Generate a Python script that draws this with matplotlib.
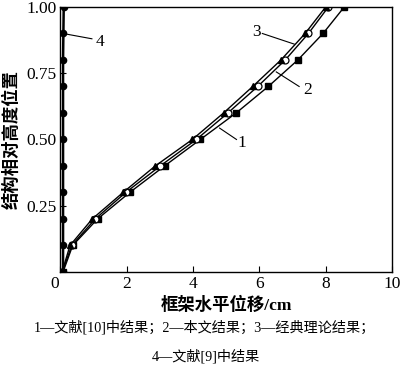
import matplotlib
matplotlib.use('Agg')
import matplotlib.pyplot as plt
from matplotlib.transforms import ScaledTranslation

plt.rcParams['font.family'] = ['Liberation Serif', 'Noto Sans CJK SC']

# relative height of the frame
height = [0, 0.1, 0.2, 0.3, 0.4, 0.5, 0.6, 0.7, 0.8, 0.9, 1.0]

# horizontal displacement (cm)
disp1 = [0.08, 0.37, 1.12, 2.09, 3.14, 4.22, 5.30, 6.27, 7.16, 7.92, 8.56]  # ref [10]
disp2 = [0.06, 0.34, 1.05, 1.97, 3.01, 4.10, 5.05, 5.95, 6.78, 7.48, 8.08]  # this paper
disp3 = [0.05, 0.29, 0.96, 1.89, 2.86, 3.98, 4.92, 5.80, 6.65, 7.38, 8.00]  # classic theory
disp4 = [0.08, 0.08, 0.08, 0.08, 0.08, 0.08, 0.08, 0.08, 0.08, 0.09, 0.10]  # ref [9]

xticks = [0, 2, 4, 6, 8, 10]
yticks = [0, 0.25, 0.50, 0.75, 1.00]
ytick_labels = ['', '0.25', '0.50', '0.75', '1.00']

fig = plt.figure(figsize=(4.0, 3.68), dpi=100)
ax = fig.add_axes([0.151, 0.261, 0.829, 0.72])

ax.plot(disp1, height, color='black', lw=1.0, marker='s', ms=4.5,
        mfc='black', mec='black')
ax.plot(disp2, height, color='black', lw=1.0, marker='o', ms=5,
        mfc='white', mec='black', mew=0.9)
ax.plot(disp3, height, color='black', lw=1.0, marker='^', ms=5,
        mfc='black', mec='black')
ax.plot(disp4, height, color='black', lw=1.8, marker='o', ms=4.5,
        mfc='black', mec='black')

# series labels with leader lines
labels = [('1', (5.31, 0.50), (4.80, 0.543), (5.46, 0.487)),
          ('2', (7.20, 0.70), (6.51, 0.755), (7.45, 0.687)),
          ('3', (6.09, 0.90), (7.05, 0.86), (5.91, 0.906)),
          ('4', (0.08, 0.90), (0.95, 0.88), (1.20, 0.868))]
for txt, p0, p1, pt in labels:
    ax.plot([p0[0], p1[0]], [p0[1], p1[1]], color='black', lw=0.8)
    ax.text(pt[0], pt[1], txt, fontsize=12.5, ha='center', va='center')

ax.set_xlim(0, 10)
ax.set_ylim(0, 1.0)
ax.set_xticks(xticks)
ax.set_xticklabels([str(v) for v in xticks])
ax.set_yticks(yticks)
ax.set_yticklabels(ytick_labels)
ax.tick_params(direction='in', length=4, width=0.8, labelsize=12.5, pad=3)
# nudge the "0" left of the corner
lab0 = ax.get_xticklabels()[0]
lab0.set_transform(lab0.get_transform() + ScaledTranslation(-4 / 72, 0, fig.dpi_scale_trans))
for s in ax.spines.values():
    s.set_linewidth(1.0)

ax.set_xlabel('框架水平位移/cm', fontsize=12.5, fontweight='bold', labelpad=3)
ax.set_ylabel('结构相对高度位置', fontsize=12.5, fontweight='bold', labelpad=4)

fig.text(0.512, 0.11, '1—文献[10]中结果；2—本文结果；3—经典理论结果；',
         ha='center', va='center', fontsize=10.2)
fig.text(0.515, 0.033, '4—文献[9]中结果', ha='center', va='center', fontsize=10.2)

fig.savefig('out.png', dpi=100)
